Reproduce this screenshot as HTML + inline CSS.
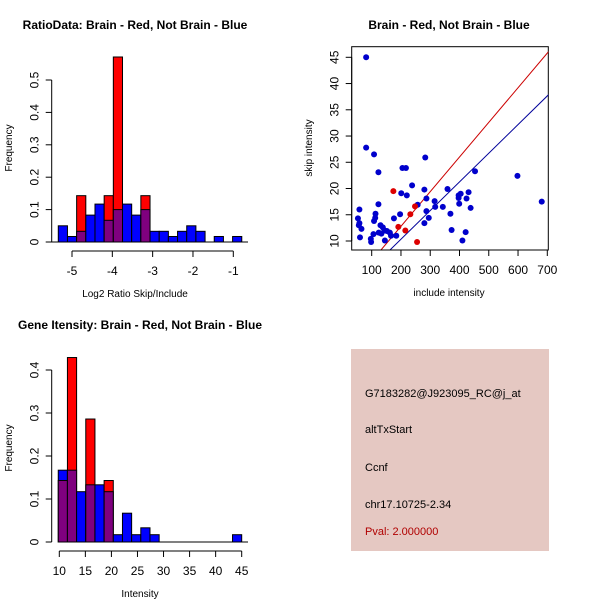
<!DOCTYPE html>
<html><head><meta charset="utf-8"><style>
html,body{margin:0;padding:0;background:#fff;}
svg{display:block;font-family:"Liberation Sans",sans-serif;}
</style></head><body>
<svg id="root" width="600" height="600" viewBox="0 0 600 600">
<rect width="600" height="600" fill="#fff"/>
<g id="p1"></g>
<g id="p2"></g>
<g id="p3"></g>
<g>
<rect x="351" y="349" width="198" height="202" fill="#e5c8c2"/>
<text x="365" y="397" font-size="11">G7183282@J923095_RC@j_at</text>
<text x="365" y="433" font-size="11">altTxStart</text>
<text x="365" y="471" font-size="11">Ccnf</text>
<text x="365" y="508" font-size="11">chr17.10725-2.34</text>
<text x="365" y="535" font-size="11" fill="#b00000">Pval: 2.000000</text>
</g>
</svg>
<script>
// Ratio histogram data
const ratioBinStart = -5.34;
const ratioBinWidth = 0.2275;
const ratioBlue = [0.05,0.017,0.033,0.083,0.117,0.067,0.1,0.117,0.083,0.1,0.033,0.033,0.017,0.033,0.05,0.033,0,0.017,0,0.017];
const ratioRed = [0,0,0.143,0,0,0.143,0.571,0,0,0.143,0,0,0,0,0,0,0,0,0,0];
const ratioXTicks = [-5,-4,-3,-2,-1];
const ratioYTicks = [0,0.1,0.2,0.3,0.4,0.5];
// Intensity histogram data
const intBinStart = 9.8;
const intBinWidth = 1.76;
const intBlue = [0.167,0.167,0.117,0.133,0.133,0.117,0.017,0.067,0.017,0.033,0.017,0,0,0,0,0,0,0,0,0.017];
const intRed = [0.143,0.429,0,0.286,0,0.143,0,0,0,0,0,0,0,0,0,0,0,0,0,0];
const intXTicks = [10,15,20,25,30,35,40,45];
const intYTicks = [0,0.1,0.2,0.3,0.4];
// Scatter data
const blueX = [81,81,108,123,123,58,53,58,56,65,60,97,98,106,108,113,112,124,130,138,133,144,152,145,162,166,184,176,197,201,205,217,220,238,257,280,283,287,280,287,295,315,317,343,359,369,373,397,397,399,404,410,421,424,431,438,453,598,681];
const blueY = [45,27.8,26.5,23.1,17,16,14.3,13.4,13,12.3,10.7,10.4,9.8,11.3,13.8,15.2,14.4,11.6,13,12.6,11.4,12,11.9,10.1,11.6,11,11,14.3,15.1,19.1,23.9,23.9,18.7,20.6,16.9,19.8,25.9,18.1,13.4,15.7,14.4,17.6,16.5,16.5,19.9,15.2,12.1,18.7,18.2,17.1,19,10.1,11.7,18.1,19.3,16.3,23.3,22.4,17.5];
const redX = [174,191,215,232,248,255];
const redY = [19.5,12.7,12,15.1,16.6,9.8];
const redLine = [-0.4,0.066];   // intercept, slope
const blueLine = [-0.58,0.0546];
const scXTicks = [100,200,300,400,500,600,700];
const scYTicks = [10,15,20,25,30,35,40,45];

const NS = "http://www.w3.org/2000/svg";
function mk(parent, tag, attrs, text){
  const e = document.createElementNS(NS, tag);
  for (const k in attrs) e.setAttribute(k, attrs[k]);
  if (text !== undefined) e.textContent = text;
  parent.appendChild(e);
  return e;
}
function lin(d0,d1,r0,r1){ return v => r0 + (v-d0)*(r1-r0)/(d1-d0); }

function axes(g, xs, ys, xt, yt, xAxisY, yAxisX, title, titleX, xlab, ylab, labY, titleY, ylabX){
  const ax = mk(g,'line',{x1:xs(xt[0]),x2:xs(xt[xt.length-1]),y1:xAxisY,y2:xAxisY,stroke:'#000'});
   
  xt.forEach(t=>{
    mk(g,'line',{x1:xs(t),x2:xs(t),y1:xAxisY,y2:xAxisY+6,stroke:'#000'});
    const tl = mk(g,'text',{x:xs(t),y:xAxisY+24,'font-size':12,'text-anchor':'middle'},String(t));
     
  });
  const ay = mk(g,'line',{x1:yAxisX,x2:yAxisX,y1:ys(yt[0]),y2:ys(yt[yt.length-1]),stroke:'#000'});
   
  yt.forEach(t=>{
    mk(g,'line',{x1:yAxisX,x2:yAxisX-6,y1:ys(t),y2:ys(t),stroke:'#000'});
    const tl = mk(g,'text',{x:yAxisX-13,y:ys(t),'font-size':12,'text-anchor':'middle',transform:`rotate(-90 ${yAxisX-13} ${ys(t)})`},String(t));
     
  });
  const tt = mk(g,'text',{x:titleX,y:titleY,'font-size':12,'font-weight':'bold','text-anchor':'middle'},title);
   
  const xl = mk(g,'text',{x:titleX,y:xAxisY+46,'font-size':10,'text-anchor':'middle'},xlab);
   
  const yl = mk(g,'text',{x:ylabX,y:labY,'font-size':10,'text-anchor':'middle',transform:`rotate(-90 ${ylabX} ${labY})`},ylab);
   
}

function hist(g, start, width, blue, red, xs, ys){
  for (let i=0;i<blue.length;i++){
    const x0 = xs(start+i*width), x1 = xs(start+(i+1)*width);
    const b = blue[i], r = red[i];
    const hi = Math.max(b,r), lo = Math.min(b,r);
    if (hi<=0) continue;
    const topCol = b>=r ? '#0000ff' : '#ff0000';
    const bar = mk(g,'rect',{x:x0,y:ys(hi),width:x1-x0,height:ys(0)-ys(hi),fill:topCol,stroke:'#000','stroke-width':1});
     
    if (lo>0){
      const ov = mk(g,'rect',{x:x0,y:ys(lo),width:x1-x0,height:ys(0)-ys(lo),fill:'#7f007f',stroke:'#000','stroke-width':1});
       
    }
  }
}

// Plot 1
(function(){
  const g = document.getElementById('p1');
  const xs = lin(-5,-1,72,233.3), ys = lin(0,0.5,242,80);
  hist(g, ratioBinStart, ratioBinWidth, ratioBlue, ratioRed, xs, ys);
  mk(g,'line',{x1:51,x2:248,y1:242,y2:242,stroke:'#000'});
  axes(g,xs,ys,ratioXTicks,ratioYTicks,251,51.7,'RatioData: Brain - Red, Not Brain - Blue',135,'Log2 Ratio Skip/Include','Frequency',148,29,12);
})();
// Plot 3
(function(){
  const g = document.getElementById('p3');
  const xs = lin(10,45,59.3,241.7), ys = lin(0,0.4,542,370);
  hist(g, intBinStart, intBinWidth, intBlue, intRed, xs, ys);
  mk(g,'line',{x1:58,x2:248,y1:542,y2:542,stroke:'#000'});
  axes(g,xs,ys,intXTicks,intYTicks,551,51.7,'Gene Itensity: Brain - Red, Not Brain - Blue',140,'Intensity','Frequency',448,329,12);
})();
// Scatter
(function(){
  const g = document.getElementById('p2');
  const xs = lin(100,700,371.7,547.3), ys = lin(10,45,241,57.3);
  const box = mk(g,'rect',{x:351.7,y:46.7,width:196.6,height:203.3,fill:'none',stroke:'#000'});
   
  const cp = mk(g,'clipPath',{id:'scClip'});
  mk(cp,'rect',{x:351.7,y:46.7,width:196.6,height:203.3});
  const inner = mk(g,'g',{'clip-path':'url(#scClip)'});
  [[redLine,'#cc0000','red-fit-line'],[blueLine,'#00009a','blue-fit-line']].forEach(([l,c,n])=>{
    const ln = mk(inner,'line',{x1:xs(0),y1:ys(l[0]),x2:xs(800),y2:ys(l[0]+l[1]*800),stroke:c,'stroke-width':1});
     
  });
  blueX.forEach((x,i)=>{
    const c = mk(inner,'circle',{cx:xs(x),cy:ys(blueY[i]),r:3,fill:'#0000cc'});
     
  });
  redX.forEach((x,i)=>{
    const c = mk(inner,'circle',{cx:xs(x),cy:ys(redY[i]),r:3,fill:'#dd0000'});
     
  });
  axes(g,xs,ys,scXTicks,scYTicks,250,351.7,'Brain - Red, Not Brain - Blue',449,'include intensity','skip intensity',148,29,312);
})();
</script>
</body></html>
